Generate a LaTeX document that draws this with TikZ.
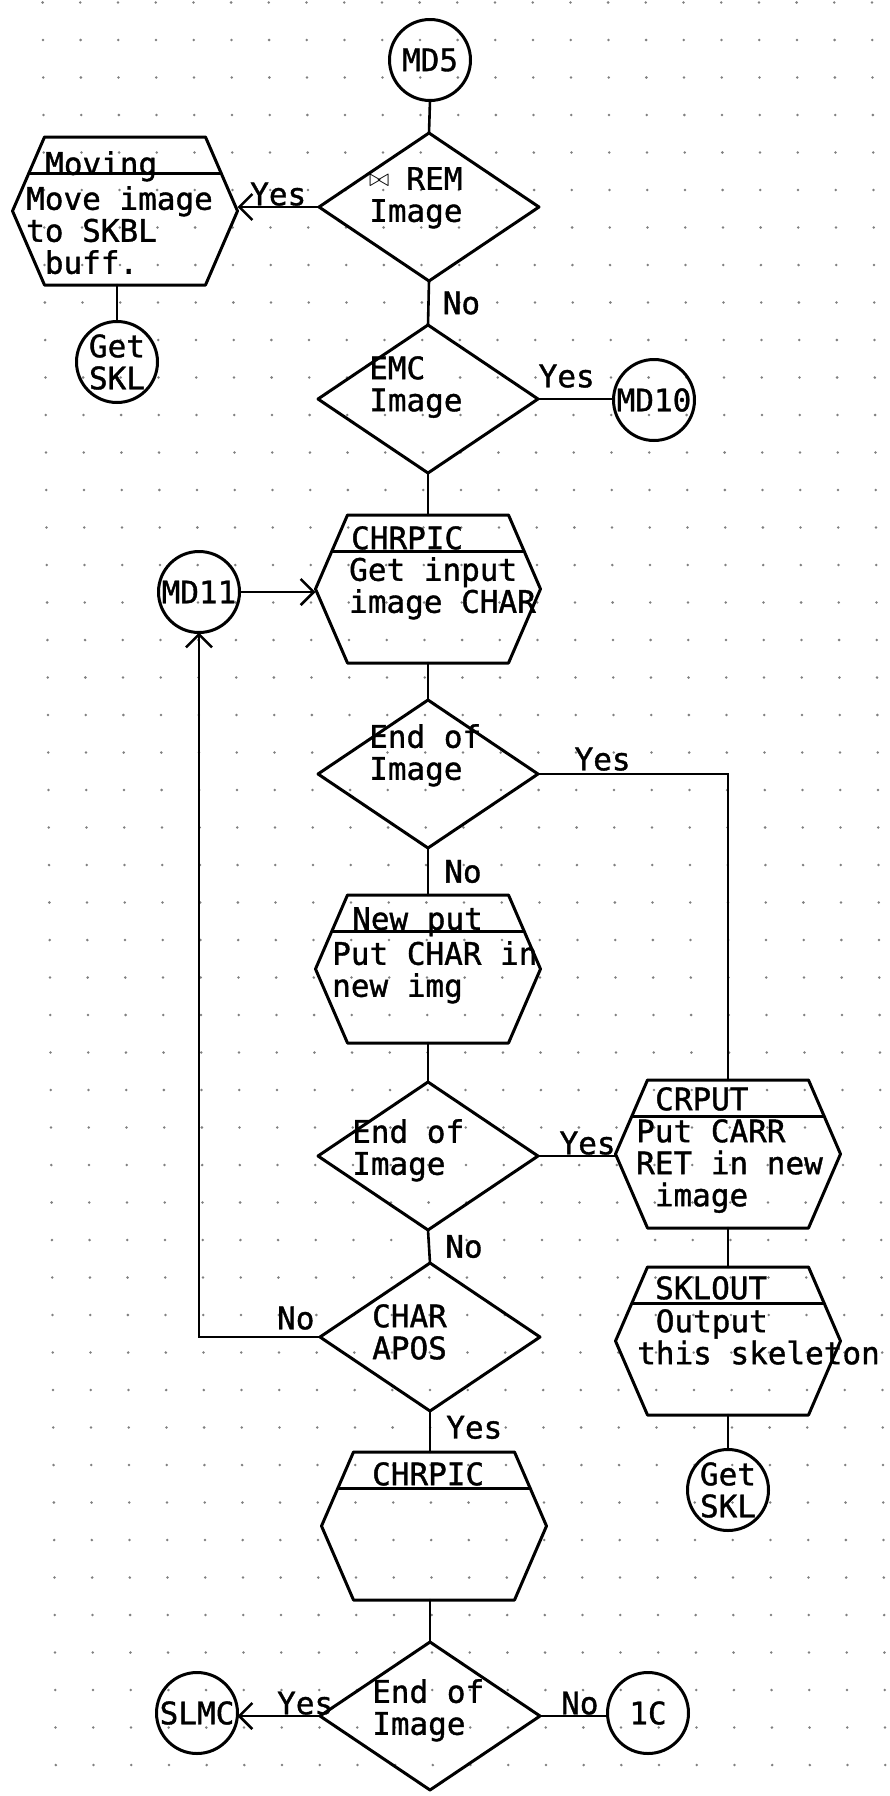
\documentclass[tikz,border=0pt]{standalone}
\usepackage{fontspec}
\newfontfamily\plotter{DejaVu Sans Mono}[WordSpace={1,0,0}, FakeBold=1.2]
\usetikzlibrary{shapes.geometric,arrows.meta}

\tikzset{
  outline/.style={draw, line width=3pt, line join=round},
  decision/.style={diamond, outline, minimum width=220pt, minimum height=148pt, inner sep=0pt, outer sep=0pt},
  conn/.style={circle, outline, minimum size=81pt, inner sep=0pt, outer sep=0pt, align=center},
  proc/.style={rectangle, minimum width=225pt, minimum height=148pt, inner sep=0pt, outer sep=0pt},
  txt/.style={anchor=north west, inner sep=0pt, align=left},
  lab/.style={inner sep=0pt},
  flow/.style={line width=2.6pt},
}

% hexagon outline with title bar, drawn on a proc node
\newcommand{\hexa}[1]{%
  \draw[outline] ([xshift=32pt]#1.north west) -- ([xshift=-32pt]#1.north east) -- (#1.east)
    -- ([xshift=-32pt]#1.south east) -- ([xshift=32pt]#1.south west) -- (#1.west) -- cycle;
  \draw[outline] ([xshift=16pt,yshift=-36pt]#1.north west) -- ([xshift=-16pt,yshift=-36pt]#1.north east);}

\begin{document}
\begin{tikzpicture}[x=1pt, y=-1pt, >={Straight Barb[length=13pt,width=26pt]}, line cap=round, font={\fontsize{31}{32}\plotter}]
\useasboundingbox (0,0) rectangle (890,1796);
% graph paper
\foreach \j in {-3,...,44}
  \foreach \i in {0,...,22}
    \fill[black!50] ({42.6+37.7*\i+0.0075*(115+37.5*\j)},{115+37.5*\j}) circle (1.4pt);

% connectors
\node[conn] (md5) at (430,60) {MD5};
\node[conn] (gsk1) at (117,362) {Get\\SKL};
\node[conn] (md10) at (654,400) {MD10};
\node[conn] (md11) at (199,592) {MD11};
\node[conn] (gsk2) at (728,1490) {Get\\SKL};
\node[conn] (slmc) at (197,1713) {SLMC};
\node[conn] (c1) at (648,1713) {1C};

% decisions
\node[decision] (rem) at (429,207) {};
\node[txt] (rem-t) at (369,167) {\makebox[0.6em][l]{\raisebox{3pt}{\fontsize{24}{24}\selectfont$\bowtie$}}\ REM\\Image};
\node[decision] (emc) at (428,399) {};
\node[txt] (emc-t) at (369,356) {EMC\\Image};
\node[decision] (eoi1) at (428,774) {};
\node[txt] (eoi1-t) at (369,724) {End of\\Image};
\node[decision] (eoi2) at (428,1156) {};
\node[txt] (eoi2-t) at (352,1119) {End of\\Image};
\node[decision] (apos) at (430,1337) {};
\node[txt] (apos-t) at (372,1304) {CHAR\\APOS};
\node[decision] (eoi3) at (430,1716) {};
\node[txt] (eoi3-t) at (372,1679) {End of\\Image};

% processes
\node[proc] (mov) at (125,211) {}; \hexa{mov}
\node[txt] (mov-h) at (45,151) {Moving};
\node[txt] (mov-t) at (26,186) {Move image\\to SKBL\\\hphantom{x}buff.};
\node[proc] (chr1) at (428,589) {}; \hexa{chr1}
\node[txt] (chr1-h) at (351,526) {CHRPIC};
\node[txt] (chr1-t) at (349,557) {Get input\\image CHAR};
\node[proc] (newp) at (428,969) {}; \hexa{newp}
\node[txt] (newp-h) at (352,907) {New put};
\node[txt] (newp-t) at (332,941) {Put CHAR in\\new img};
\node[proc] (crput) at (728,1154) {}; \hexa{crput}
\node[txt] (crput-h) at (655,1087) {CRPUT};
\node[txt] (crput-t) at (636,1119) {Put CARR\\RET in new\\\hphantom{x}image};
\node[proc] (sklout) at (728,1341) {}; \hexa{sklout}
\node[txt] (sklout-h) at (655,1276) {SKLOUT};
\node[txt] (sklout-t) at (637,1309) {\hphantom{x}Output\\this skeleton};
\node[proc] (chr2) at (434,1526) {}; \hexa{chr2}
\node[txt] (chr2-h) at (372,1462) {CHRPIC};

% flow lines
\draw[flow] (md5.south) -- (rem.north);
\draw[flow,->] (rem.west) -- node[lab, above] (y1) {Yes} (rem.west -| mov.east);
\draw[flow] (mov.south -| gsk1.north) -- (gsk1.north);
\draw[flow] (rem.south) -- node[lab, anchor=west, xshift=13pt] (n1) {No} (emc.north);
\draw[flow] (emc.east) -- node[lab, pos=.38, anchor=south, yshift=10pt] (y2) {Yes} (emc.east -| md10.west);
\draw[flow] (emc.south) -- (chr1.north);
\draw[flow,->] (md11.east) -- (md11.east -| chr1.west);
\draw[flow] (chr1.south) -- (eoi1.north);
\draw[flow] (eoi1.east) -| node[lab, pos=.17, anchor=south, yshift=2pt] (y3) {Yes} (crput.north);
\draw[flow] (eoi1.south) -- node[lab, anchor=west, xshift=15pt] (n2) {No} (newp.north);
\draw[flow] (newp.south) -- (eoi2.north);
\draw[flow] (eoi2.east) -- node[lab, pos=.64, anchor=south] (y4) {Yes} (eoi2.east -| crput.west);
\draw[flow] (eoi2.south) -- node[lab, anchor=west, xshift=15pt] (n3) {No} (apos.north);
\draw[flow,->] (apos.west) -| node[lab, pos=.1, anchor=south, yshift=6pt] (n4) {No} (md11.south);
\draw[flow] (apos.south) -- node[lab, pos=.4, anchor=west, xshift=15pt] (y5) {Yes} (apos.south |- chr2.north);
\draw[flow] (crput.south) -- (sklout.north);
\draw[flow] (sklout.south) -- (gsk2.north);
\draw[flow] (chr2.south -| eoi3.north) -- (eoi3.north);
\draw[flow,->] (eoi3.west) -- node[lab, pos=.18, anchor=south] (y6) {Yes} (eoi3.west -| slmc.east);
\draw[flow] (eoi3.east) -- node[lab, pos=.59, anchor=south] (n5) {No} (eoi3.east -| c1.west);
\end{tikzpicture}
\end{document}
